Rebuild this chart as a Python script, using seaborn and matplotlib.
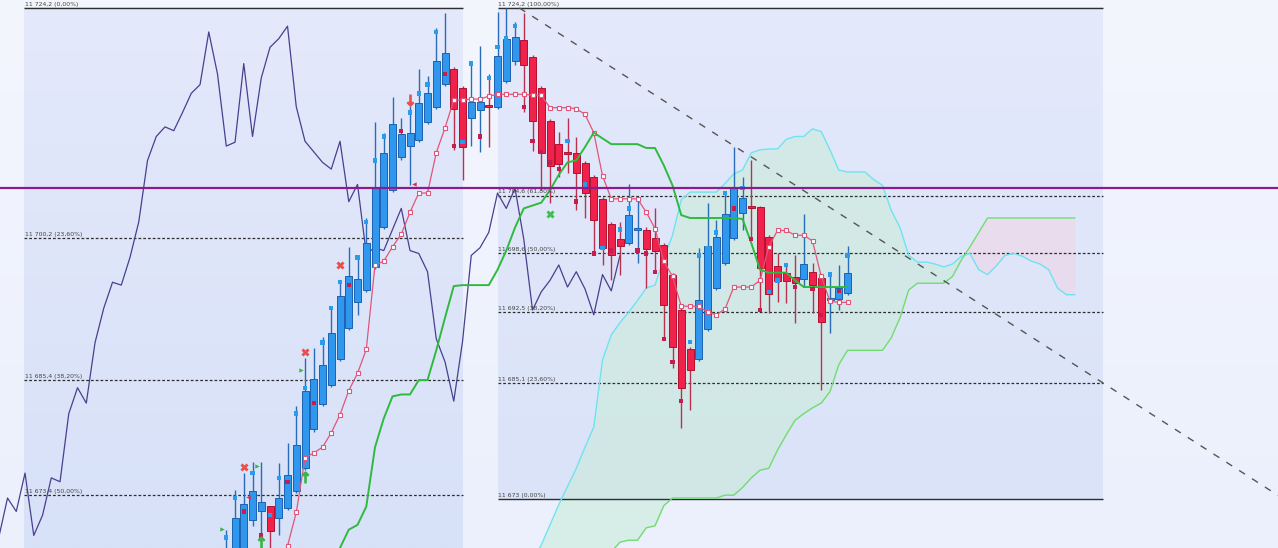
import numpy as np
import matplotlib
matplotlib.use('Agg')
import matplotlib.pyplot as plt
import seaborn as sns
from matplotlib.colors import LinearSegmentedColormap

# Heikin-Ashi candles, bar 0 = first candle on the left
ha_open = [11665.1, 11666.1, 11666.6, 11670.8, 11671.7, 11672.3, 11671.0, 11672.1, 11673.8, 11676.2,
           11680.3, 11682.9, 11684.9, 11687.6, 11690.8, 11693.5, 11694.8, 11697.2, 11701.4, 11705.2,
           11708.7, 11709.8, 11710.4, 11712.3, 11713.9, 11716.3, 11717.8, 11715.9, 11712.7, 11713.6,
           11714.1, 11713.9, 11716.6, 11718.7, 11720.9, 11719.1, 11715.9, 11712.4, 11710.0, 11709.2,
           11709.1, 11708.0, 11706.6, 11704.3, 11701.7, 11700.1, 11699.7, 11701.0, 11701.1, 11700.2,
           11699.5, 11696.4, 11692.7, 11688.6, 11687.6, 11690.7, 11695.0, 11697.6, 11700.2, 11702.8,
           11703.6, 11703.4, 11700.3, 11697.3, 11696.6, 11696.1, 11695.9, 11696.7, 11696.0, 11693.7,
           11693.9, 11694.5]
ha_high = [11669.8, 11673.9, 11675.7, 11676.9, 11676.9, 11672.3, 11676.8, 11678.8, 11682.7, 11687.7,
           11688.7, 11689.9, 11692.9, 11695.6, 11699.3, 11698.2, 11702.3, 11712.3, 11711.2, 11714.9,
           11712.7, 11714.0, 11717.8, 11717.1, 11722.1, 11723.7, 11718.0, 11716.1, 11718.5, 11720.2,
           11717.3, 11723.8, 11724.2, 11722.7, 11723.7, 11719.3, 11716.1, 11712.6, 11711.3, 11712.7,
           11710.7, 11708.2, 11706.8, 11704.5, 11701.9, 11701.9, 11705.8, 11704.5, 11701.4, 11703.3,
           11699.7, 11696.6, 11692.9, 11688.8, 11699.2, 11703.9, 11702.1, 11704.9, 11709.7, 11706.6,
           11708.3, 11703.6, 11700.5, 11698.6, 11697.4, 11698.4, 11702.7, 11697.6, 11696.2, 11696.4,
           11697.4, 11699.4]
ha_low = [11663.5, 11665.1, 11665.6, 11670.2, 11669.4, 11666.6, 11669.2, 11671.9, 11673.6, 11676.0,
          11680.0, 11682.7, 11684.7, 11687.4, 11690.6, 11692.2, 11694.6, 11697.0, 11701.2, 11705.0,
          11708.3, 11705.7, 11710.2, 11712.1, 11713.7, 11716.1, 11709.4, 11706.3, 11709.8, 11709.2,
          11709.7, 11713.7, 11716.4, 11718.3, 11713.4, 11709.3, 11705.2, 11703.9, 11706.6, 11707.0,
          11703.1, 11702.3, 11698.6, 11697.4, 11695.8, 11696.4, 11699.5, 11697.6, 11695.0, 11696.7,
          11689.6, 11686.7, 11680.4, 11682.3, 11687.4, 11690.5, 11694.8, 11697.4, 11700.0, 11701.0,
          11700.0, 11692.7, 11692.4, 11693.5, 11693.4, 11691.3, 11695.1, 11692.4, 11684.4, 11690.3,
          11692.7, 11694.3]
ha_close = [11667.5, 11671.0, 11672.5, 11673.8, 11672.7, 11669.7, 11673.1, 11675.5, 11678.6, 11684.3,
            11685.5, 11687.0, 11690.3, 11694.2, 11696.2, 11695.9, 11699.7, 11705.5, 11709.1, 11712.1,
            11711.1, 11711.2, 11714.3, 11715.3, 11718.7, 11719.5, 11713.7, 11709.7, 11714.4, 11714.4,
            11713.9, 11719.2, 11721.0, 11721.2, 11718.3, 11712.4, 11709.1, 11707.7, 11707.9, 11709.0,
            11707.0, 11704.9, 11702.1, 11699.2, 11698.4, 11699.4, 11702.6, 11701.3, 11699.1, 11698.9,
            11693.2, 11688.9, 11684.6, 11686.4, 11693.8, 11699.4, 11700.3, 11702.7, 11705.4, 11704.4,
            11703.3, 11697.1, 11694.4, 11695.7, 11695.7, 11695.5, 11697.5, 11695.3, 11691.5, 11694.0,
            11695.0, 11696.6]

# real closes (small squares on the candles, also the lagging span)
close = [11669.0, 11673.1, 11671.7, 11675.7, 11669.2, 11671.3, 11675.2, 11674.8, 11681.9, 11684.6,
         11683.0, 11689.3, 11692.9, 11695.6, 11695.3, 11698.2, 11701.9, 11708.3, 11710.8, 11711.8,
         11711.4, 11713.3, 11715.3, 11716.2, 11721.7, 11717.3, 11709.8, 11710.2, 11718.4, 11710.8,
         11716.9, 11720.1, 11721.0, 11722.3, 11713.9, 11710.3, 11709.2, 11708.1, 11707.4, 11710.3,
         11704.0, 11705.8, 11698.6, 11699.2, 11698.9, 11701.1, 11703.3, 11698.9, 11698.6, 11696.7,
         11689.7, 11687.3, 11683.2, 11689.4, 11698.4, 11699.2, 11700.8, 11704.9, 11703.3, 11705.4,
         11700.1, 11692.7, 11694.6, 11695.8, 11697.4, 11695.1, 11696.7, 11694.9, 11692.2, 11696.4,
         11694.7, 11698.4]
chikou_shift = 26

tenkan_start = 6
tenkan = [11665.6, 11668.1, 11671.6, 11677.3, 11677.8, 11678.4, 11679.9, 11681.8, 11684.3, 11686.1,
          11688.6, 11697.4, 11697.8, 11699.3, 11700.6, 11702.9, 11704.9, 11704.9, 11709.1, 11711.7,
          11714.6, 11714.6, 11714.7, 11714.7, 11715.0, 11715.2, 11715.2, 11715.2, 11715.2, 11715.1,
          11715.1, 11713.8, 11713.8, 11713.8, 11713.7, 11713.1, 11711.2, 11706.7, 11704.3, 11704.3,
          11704.3, 11704.3, 11702.9, 11701.2, 11697.8, 11696.2, 11693.1, 11693.1, 11693.1, 11692.5,
          11692.2, 11692.8, 11695.1, 11695.1, 11695.1, 11695.8, 11699.3, 11701.0, 11701.0, 11700.5,
          11700.5, 11699.9, 11696.2, 11693.6, 11693.5, 11693.5]

kijun_start = 13
kijun = [11667.9, 11669.8, 11670.3, 11672.2, 11678.4, 11681.4, 11683.7, 11683.9, 11683.9, 11685.4,
         11685.4, 11688.5, 11691.9, 11695.2, 11695.3, 11695.3, 11695.3, 11695.3, 11696.9, 11698.9,
         11701.3, 11703.3, 11703.6, 11703.9, 11705.2, 11706.8, 11708.1, 11708.3, 11709.7, 11711.2,
         11710.6, 11710.0, 11710.0, 11710.0, 11710.0, 11709.6, 11709.6, 11707.8, 11705.7, 11702.6,
         11702.3, 11702.3, 11702.3, 11702.3, 11702.3, 11702.3, 11702.2, 11699.7, 11696.9, 11696.6,
         11696.6, 11696.6, 11695.8, 11695.1, 11695.1, 11695.1, 11695.1, 11695.1, 11695.1]

span_start = 35
span_a = [11666.6, 11668.2, 11670.3, 11672.4, 11674.3, 11676.2, 11678.4, 11680.5, 11687.5, 11690.1,
          11691.4, 11692.5, 11693.7, 11695.0, 11695.3, 11698.1, 11700.5, 11704.2, 11705.0, 11705.0,
          11705.0, 11705.0, 11705.9, 11706.9, 11707.3, 11709.1, 11709.4, 11709.5, 11709.5, 11710.5,
          11710.8, 11710.8, 11711.6, 11711.3, 11709.4, 11707.3, 11707.1, 11707.1, 11707.1, 11706.3,
          11705.7, 11703.1, 11701.3, 11698.4, 11697.7, 11697.7, 11697.5, 11697.2, 11697.5, 11698.3,
          11698.6, 11696.9, 11696.4, 11697.3, 11698.4, 11698.6, 11698.3, 11697.8, 11697.5, 11696.9,
          11695.0, 11694.3, 11694.3]
span_b = [11660.0, 11660.0, 11661.5, 11661.5, 11663.0, 11663.0, 11664.5, 11665.0, 11665.5, 11667.5,
          11668.5, 11668.7, 11668.7, 11670.0, 11670.2, 11672.3, 11673.1, 11673.1, 11673.1, 11673.1,
          11673.1, 11673.1, 11673.4, 11673.4, 11674.2, 11675.2, 11676.0, 11676.2, 11678.1, 11679.7,
          11681.2, 11681.9, 11682.5, 11683.0, 11684.2, 11687.0, 11688.5, 11688.5, 11688.5, 11688.5,
          11688.5, 11689.8, 11691.9, 11694.8, 11695.5, 11695.5, 11695.5, 11695.5, 11696.2, 11697.9,
          11699.3, 11700.8, 11702.3, 11702.3, 11702.3, 11702.3, 11702.3, 11702.3, 11702.3, 11702.3,
          11702.3, 11702.3, 11702.3]

# fibonacci retracements
left_fib = [11724.2, 11700.2, 11685.4, 11673.4]
left_fib_txt = ['11 724,2 (0,00%)', '11 700,2 (23,60%)', '11 685,4 (38,20%)', '11 673,4 (50,00%)']
right_fib = [11724.2, 11704.6, 11698.6, 11692.5, 11685.1, 11673.0]
right_fib_txt = ['11 724,2 (100,00%)', '11 704,6 (61,80%)', '11 698,6 (50,00%)',
                 '11 692,5 (38,20%)', '11 685,1 (23,60%)', '11 673 (0,00%)']

hline_level = 11705.4
trend_p1 = (33.5, 11724.2)
trend_p2 = (100.2, 11685.1)

# signal markers (bar, price)
red_x_bar, red_x_price = [2, 9, 13], [11676.3, 11688.3, 11697.4]
green_x_bar, green_x_price = [37], [11702.7]
up_arrow_bar, up_arrow_price = [4, 9], [11668.5, 11675.3]
flag_bar, flag_price = [-0.5, 3.5, 8.5], [11669.9, 11676.4, 11686.4]
down_arrow_bar, down_arrow_price = [21], [11714.6]
left_tri_bar, left_tri_price = [21.5, 2.5], [11705.8, 11673.2]

# view / layout
x_min, x_max = -25.86, 120.2
y_min, y_max = 11667.89, 11725.03
left_box = (-23.1, 27.06)
right_box = (31.06, 100.2)

sns.set_style('white')
fig = plt.figure(figsize=(12.78, 5.48), dpi=100)
ax = fig.add_axes([0, 0, 1, 1])
ax.axis('off')


def vgrad(x0, x1, y0, y1, top, bottom, z):
    cmap = LinearSegmentedColormap.from_list('g', [top, bottom])
    ax.imshow(np.linspace(0, 1, 256)[:, None], extent=(x0, x1, y0, y1), origin='upper',
              cmap=cmap, aspect='auto', zorder=z, interpolation='bilinear')


vgrad(x_min, x_max, y_min, y_max, '#f4f6fe', '#ebf0fc', 0)
vgrad(left_box[0], left_box[1], y_min, left_fib[0], '#e4e9fb', '#d7e1f8', 0.5)
vgrad(right_box[0], right_box[1], right_fib[-1], right_fib[0], '#e4e9fb', '#dae3f8', 0.5)

# cloud
sx = np.arange(len(span_a)) + span_start
sa, sb = np.array(span_a), np.array(span_b)
ax.fill_between(sx, sa, sb, where=sa >= sb, interpolate=True, color='#c8ecd8', alpha=0.55, lw=0, zorder=1)
ax.fill_between(sx, sa, sb, where=sa < sb, interpolate=True, color='#f3d3e2', alpha=0.5, lw=0, zorder=1)
sns.lineplot(x=sx, y=sa, ax=ax, color='#6fe3f0', linewidth=1.0, zorder=3)
sns.lineplot(x=sx, y=sb, ax=ax, color='#72dc72', linewidth=1.0, zorder=3)

# fib lines and labels
for lv, txt in zip(left_fib, left_fib_txt):
    solid = lv == left_fib[0]
    ax.hlines(lv, left_box[0], left_box[1], colors='#2e2e2e', lw=1.0 if solid else 0.9,
              linestyles='solid' if solid else (0, (2.2, 1.6)), zorder=2.5)
    ax.text(left_box[0] + 0.05, lv + 0.15, txt, fontsize=4.4, color='#444444', va='bottom', ha='left', zorder=9)
for lv, txt in zip(right_fib, right_fib_txt):
    solid = lv in (right_fib[0], right_fib[-1])
    ax.hlines(lv, right_box[0], right_box[1], colors='#2e2e2e', lw=1.0 if solid else 0.9,
              linestyles='solid' if solid else (0, (2.2, 1.6)), zorder=2.5)
    ax.text(right_box[0] + 0.05, lv + 0.15, txt, fontsize=4.4, color='#444444', va='bottom', ha='left', zorder=9)

# lagging span
idx = np.arange(len(close))
sns.lineplot(x=idx - chikou_shift, y=close, ax=ax, color='#4a3f8e', linewidth=0.9, zorder=3)

# trend line
slope = (trend_p2[1] - trend_p1[1]) / (trend_p2[0] - trend_p1[0])
ax.plot([trend_p1[0], x_max], [trend_p1[1], trend_p1[1] + slope * (x_max - trend_p1[0])],
        color='#555555', lw=1.0, linestyle=(0, (5, 6)), zorder=6)

# heikin-ashi candles
o, h, l, c = map(np.array, (ha_open, ha_high, ha_low, ha_close))
up = c >= o
bottom = np.minimum(o, c)
height = np.maximum(np.abs(c - o), 0.18)
ax.vlines(idx[up], l[up], h[up], colors='#2a6cb8', lw=1.0, zorder=4)
ax.vlines(idx[~up], l[~up], h[~up], colors='#b8324f', lw=1.0, zorder=4)
ax.bar(idx[up], height[up], bottom=bottom[up], width=0.8, color='#2f97ee',
       edgecolor='#1c62b0', linewidth=0.7, zorder=5)
ax.bar(idx[~up], height[~up], bottom=bottom[~up], width=0.8, color='#f0214b',
       edgecolor='#b3102f', linewidth=0.7, zorder=5)

# conversion / base lines
sns.lineplot(x=np.arange(len(tenkan)) + tenkan_start, y=tenkan, ax=ax, color='#e2557a',
             linewidth=0.9, marker='s', markersize=3.0, markerfacecolor='white',
             markeredgecolor='#e2557a', markeredgewidth=0.8, zorder=7)
sns.lineplot(x=np.arange(len(kijun)) + kijun_start, y=kijun, ax=ax, color='#2fba3e',
             linewidth=1.4, zorder=7)

# real closes
prev = np.r_[close[0], close[:-1]]
direction = np.where(np.array(close) >= prev, 'up', 'down')
sns.scatterplot(x=idx, y=close, hue=direction, palette={'up': '#2a9cee', 'down': '#c41d4e'},
                marker='s', s=10, linewidth=0, legend=False, ax=ax, zorder=8)

# signals
ax.scatter(red_x_bar, red_x_price, marker='X', s=34, color='#e8504e', linewidths=0, zorder=9)
ax.scatter(green_x_bar, green_x_price, marker='X', s=34, color='#3cc04a', linewidths=0, zorder=9)
ax.scatter(up_arrow_bar, up_arrow_price, marker='$\u2191$', s=60, color='#3bb54a', zorder=9)
ax.scatter(flag_bar, flag_price, marker='>', s=10, color='#3cb84a', linewidths=0, zorder=9)
ax.scatter(down_arrow_bar, down_arrow_price, marker='$\u2193$', s=60, color='#e8504e', zorder=9)
ax.scatter(left_tri_bar, left_tri_price, marker='<', s=10, color='#d8304a', linewidths=0, zorder=9)

ax.axhline(hline_level, color='#8c1c8c', lw=1.6, zorder=10)

ax.set_xlim(x_min, x_max)
ax.set_ylim(y_min, y_max)
fig.savefig('out.png', dpi=100)
